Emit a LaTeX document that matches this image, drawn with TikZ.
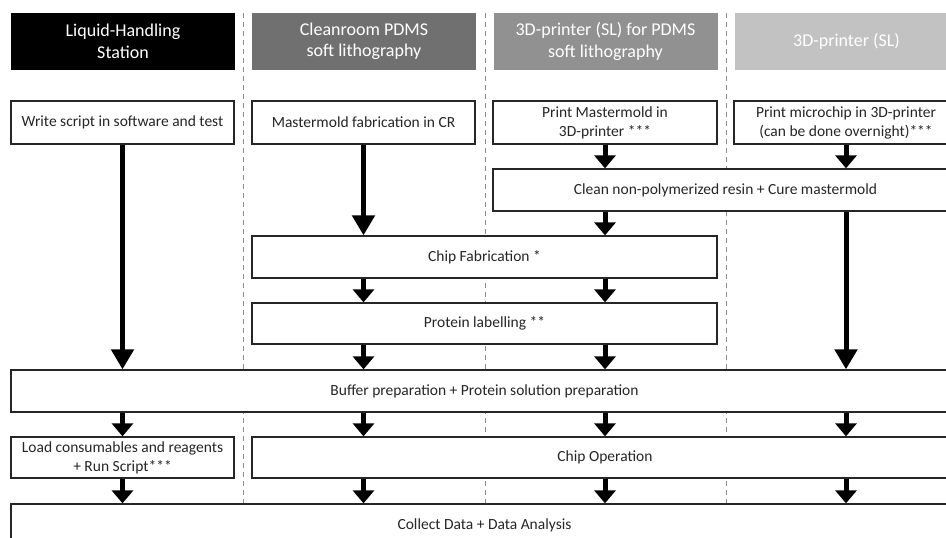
\documentclass[tikz,border=0pt]{standalone}
\usepackage{fontspec}
\setmainfont{Carlito}
\usetikzlibrary{arrows.meta}
\definecolor{hdtwo}{RGB}{112,112,112}
\definecolor{hdthree}{RGB}{145,145,145}
\definecolor{hdfour}{RGB}{194,194,194}
\begin{document}
\begin{tikzpicture}[x=1pt,y=-1pt,
  box/.style={draw=black!85, line width=1.3pt, fill=white, inner sep=2pt, align=center,
    font=\fontsize{15.5}{19}\selectfont, text=black!85},
  head/.style={fill=#1, text=white, align=center, minimum width=224pt, minimum height=57pt,
    inner sep=0pt, font=\fontsize{18}{21.5}\selectfont},
  sep/.style={draw=black!45, line width=1pt, dash pattern=on 5pt off 4pt},
  arr/.style={draw=black, line width=5pt, -{Triangle[width=21pt,length=13pt]}},
  longarr/.style={draw=black, line width=5pt, -{Triangle[width=22pt,length=20pt]}}
]
\clip (0,0) rectangle (946,538);
\fill[white] (0,0) rectangle (946,538);

% column separators
\draw[sep] (243,13) -- (243,504);
\draw[sep] (485,13) -- (485,504);
\draw[sep] (726,13) -- (726,504);

% headers
\node[head=black] (h1) at (123,41.5) {Liquid-Handling\\Station};
\node[head=hdtwo] (h2) at (364,41.5) {Cleanroom PDMS\\soft lithography};
\node[head=hdthree] (h3) at (605.5,41.5) {3D-printer (SL) for PDMS\\soft lithography};
\node[head=hdfour] (h4) at (846.5,41.5) {3D-printer (SL)};

% boxes
\node[box, minimum width=223pt, minimum height=43pt] (w1) at (122.5,122.5) {Write script in software and test};
\node[box, minimum width=223pt, minimum height=43pt] (m2) at (363.5,122.5) {Mastermold fabrication in CR};
\node[box, minimum width=224pt, minimum height=43pt] (p3) at (605,122.5) {Print Mastermold in\\3D-printer ***};
\node[box, minimum width=224pt, minimum height=43pt] (p4) at (846,122.5) {Print microchip in 3D-printer\\(can be done overnight)***};
\node[box, minimum width=465pt, minimum height=42pt] (cl) at (725.5,190) {Clean non-polymerized resin + Cure mastermold};
\node[box, minimum width=465pt, minimum height=42pt] (cf) at (484.5,257) {Chip Fabrication *};
\node[box, minimum width=465pt, minimum height=41pt] (pl) at (484.5,323.5) {Protein labelling **};
\node[box, minimum width=947pt, minimum height=42pt] (buf) at (484.5,391) {Buffer preparation + Protein solution preparation};
\node[box, minimum width=223pt, minimum height=41pt] (ld) at (122.5,457.5) {Load consumables and reagents\\+ Run Script***};
\node[box, minimum width=706pt, minimum height=41pt] (co) at (605,457.5) {Chip Operation};
\node[box, minimum width=947pt, minimum height=42pt] (cd) at (484.5,525) {Collect Data + Data Analysis};

% arrows
\draw[longarr] (w1.south) -- (w1.south |- buf.north);
\draw[longarr] (m2.south) -- (m2.south |- cf.north);
\draw[arr] (p3.south) -- (p3.south |- cl.north);
\draw[arr] (p4.south) -- (p4.south |- cl.north);
\draw[arr] (p3.south |- cl.south) -- (p3.south |- cf.north);
\draw[longarr] (p4.south |- cl.south) -- (p4.south |- buf.north);
\draw[arr] (m2.south |- cf.south) -- (m2.south |- pl.north);
\draw[arr] (p3.south |- cf.south) -- (p3.south |- pl.north);
\draw[arr] (m2.south |- pl.south) -- (m2.south |- buf.north);
\draw[arr] (p3.south |- pl.south) -- (p3.south |- buf.north);
\draw[arr] (w1.south |- buf.south) -- (ld.north);
\draw[arr] (m2.south |- buf.south) -- (m2.south |- co.north);
\draw[arr] (p3.south |- buf.south) -- (p3.south |- co.north);
\draw[arr] (p4.south |- buf.south) -- (p4.south |- co.north);
\draw[arr] (ld.south) -- (ld.south |- cd.north);
\draw[arr] (m2.south |- co.south) -- (m2.south |- cd.north);
\draw[arr] (p3.south |- co.south) -- (p3.south |- cd.north);
\draw[arr] (p4.south |- co.south) -- (p4.south |- cd.north);
\end{tikzpicture}
\end{document}
